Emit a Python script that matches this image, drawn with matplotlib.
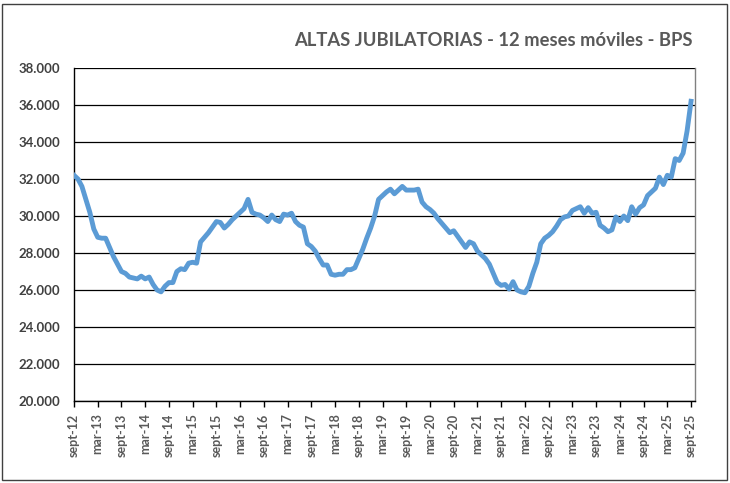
import matplotlib
matplotlib.use('Agg')
import matplotlib.pyplot as plt
import matplotlib.patches as patches
from matplotlib.ticker import FuncFormatter, FixedLocator

# 12-month moving total of new retirements (BPS), sept-12 .. sept-25, one value per month
altas = [32.2, 32.0, 31.6, 30.9, 30.2, 29.3, 28.85, 28.8, 28.8, 28.3,
         27.8, 27.4, 27.0, 26.9, 26.7, 26.65, 26.6, 26.75, 26.6, 26.7,
         26.3, 26.0, 25.9, 26.2, 26.4, 26.4, 27.0, 27.15, 27.1, 27.45,
         27.5, 27.45, 28.6, 28.85, 29.1, 29.4, 29.7, 29.65, 29.35, 29.55,
         29.8, 30.0, 30.2, 30.4, 30.9, 30.2, 30.1, 30.05, 29.9, 29.7,
         30.05, 29.8, 29.7, 30.1, 30.05, 30.15, 29.7, 29.5, 29.4, 28.5,
         28.35, 28.1, 27.7, 27.35, 27.35, 26.85, 26.8, 26.85, 26.85, 27.1,
         27.1, 27.2, 27.7, 28.2, 28.8, 29.35, 30.0, 30.9, 31.1, 31.3,
         31.45, 31.2, 31.4, 31.6, 31.4, 31.4, 31.4, 31.45, 30.75, 30.5,
         30.35, 30.15, 29.85, 29.6, 29.35, 29.1, 29.2, 28.9, 28.6, 28.3,
         28.6, 28.5, 28.1, 27.9, 27.7, 27.4, 26.9, 26.4, 26.25, 26.3,
         26.05, 26.45, 26.0, 25.9, 25.85, 26.2, 26.9, 27.5, 28.5, 28.8,
         28.95, 29.15, 29.45, 29.8, 29.95, 30.0, 30.3, 30.4, 30.5, 30.15,
         30.45, 30.15, 30.2, 29.5, 29.35, 29.15, 29.25, 29.95, 29.7, 30.0,
         29.75, 30.5, 30.1, 30.45, 30.6, 31.1, 31.3, 31.5, 32.1, 31.7,
         32.2, 32.1, 33.1, 33.0, 33.4, 34.6, 36.2]
altas = [v * 1000 for v in altas]
meses = list(range(len(altas)))

tickLabels = ['sept-12', 'mar-13', 'sept-13', 'mar-14', 'sept-14', 'mar-15', 'sept-15',
              'mar-16', 'sept-16', 'mar-17', 'sept-17', 'mar-18', 'sept-18', 'mar-19',
              'sept-19', 'mar-20', 'sept-20', 'mar-21', 'sept-21', 'mar-22', 'sept-22',
              'mar-23', 'sept-23', 'mar-24', 'sept-24', 'mar-25', 'sept-25']
tickPos = [6 * k for k in range(len(tickLabels))]
yTicks = list(range(20000, 38001, 2000))

fig = plt.figure(figsize=(7.3, 4.83), dpi=100)
ax = fig.add_axes([74/730, 1 - 401/483, (695 - 74)/730, (401 - 68)/483])

ax.plot(meses, altas, color='#5b9bd5', linewidth=3.5, solid_joinstyle='round', zorder=3)

ax.set_xlim(0, 157)
ax.set_ylim(20000, 38000)
ax.yaxis.set_major_locator(FixedLocator(yTicks))
ax.yaxis.set_major_formatter(FuncFormatter(lambda v, p: '{:,.0f}'.format(v).replace(',', '.')))
ax.grid(axis='y', color='black', linewidth=0.9, zorder=1)
ax.set_xticks(tickPos)
ax.set_xticklabels(tickLabels, rotation=90)

for lbl in ax.get_yticklabels():
    lbl.set_fontfamily('Lato')
    lbl.set_fontweight('bold')
    lbl.set_fontsize(9.5)
    lbl.set_color('#404040')
for lbl in ax.get_xticklabels():
    lbl.set_fontfamily('Lato')
    lbl.set_fontweight('bold')
    lbl.set_fontsize(9)
    lbl.set_color('#595959')

ax.tick_params(axis='y', length=0, pad=10)
ax.tick_params(axis='x', length=4, width=1, direction='out', pad=5)

for s in ['left', 'bottom']:
    ax.spines[s].set_color('black')
    ax.spines[s].set_linewidth(1.0)
ax.spines['top'].set_visible(False)
ax.spines['right'].set_color('#808080')
ax.spines['right'].set_linewidth(1.0)

fig.text(693/730, 1 - 40/483, 'ALTAS JUBILATORIAS - 12 meses móviles - BPS',
         ha='right', va='center', fontsize=13.2, fontweight='bold', color='#595959', family='Lato')

# outer chart frame
frame = patches.Rectangle((2/730, 3/483), 725/730, 476/483, transform=fig.transFigure,
                          fill=False, edgecolor='#404040', linewidth=1.0)
fig.patches.append(frame)

fig.savefig('out.png', dpi=100)
